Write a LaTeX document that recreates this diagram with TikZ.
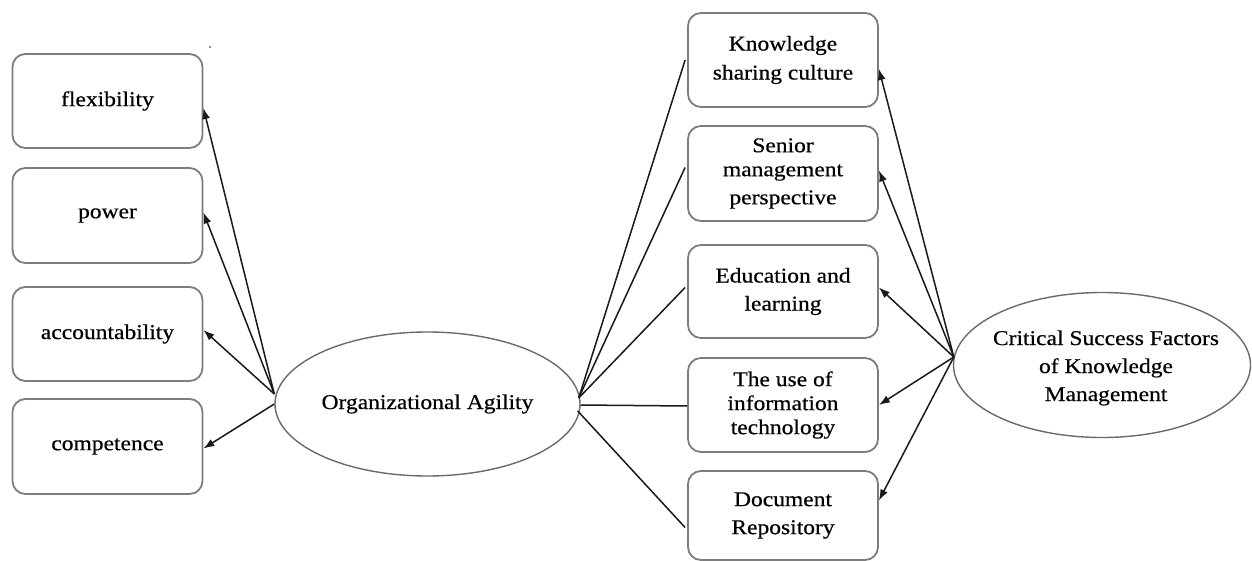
\documentclass[tikz,border=0pt]{standalone}
\usepackage{fontspec}
\setmainfont{Liberation Serif}[FakeStretch=1.12,FakeBold=0.5]
\usetikzlibrary{arrows.meta,shapes.geometric}
\definecolor{frame}{RGB}{125,125,125}
\begin{document}
\begin{tikzpicture}[x=1pt,y=-1pt,
  every node/.style={font=\fontsize{21}{24}\selectfont, text=black},
  factor/.style={draw=frame, line width=1.8pt, rounded corners=13pt,
    minimum width=190pt, inner sep=0pt, align=center},
  hub/.style={ellipse, draw=frame!85!black, line width=1.4pt, inner sep=0pt},
  label/.style={align=center, inner sep=0pt},
  link/.style={line width=1.5pt, draw=black!90},
  arr/.style={link, -{Latex[length=11pt,width=8pt]}}]
\useasboundingbox (0,0) rectangle (1252,561);

% indicators of organizational agility
\node[factor, minimum height=94pt] (flex) at (107.5,101) {flexibility};
\node[factor, minimum height=95pt] (power) at (107.5,215.5) {power};
\node[factor, minimum height=94pt] (acc) at (107.5,334) {accountability};
\node[factor, minimum height=95pt] (comp) at (107.5,446.5) {competence};

% central construct
\node[hub, minimum width=305pt, minimum height=144pt] (oa) at (427.5,404) {};
\node[label] (oaText) at (oa.center) {Organizational Agility};

% critical success factors
\node[factor, minimum height=94pt] (ksc) at (783,60) {Knowledge\\[5pt]sharing culture};
\node[factor, minimum height=95pt] (smp) at (783,173.5) {Senior\\management\\[4pt]perspective};
\node[factor, minimum height=93pt] (edu) at (783,291.5) {Education and\\[4pt]learning};
\node[factor, minimum height=94pt] (it) at (783,405) {The use of\\information\\technology};
\node[factor, minimum height=89pt] (doc) at (783,515.5) {Document\\[4pt]Repository};

\node[hub, minimum width=297pt, minimum height=145pt] (csf) at (1102,365) {};
\node[label] (csfText) at (1106,368)
  {Critical Success Factors\\[4pt]of Knowledge\\[4pt]Management};

% hub points on the ellipses
\coordinate (oaW) at ([yshift=10pt]oa.west);
\coordinate (oaWl) at ([yshift=0pt]oa.west);
\coordinate (oaE) at ([xshift=-2pt,yshift=6pt]oa.east);
\coordinate (csfW) at ([xshift=1pt,yshift=8pt]csf.west);

% arrows to the agility indicators
\draw[arr] (oaW) -- ([yshift=-7pt]flex.east);
\draw[arr] (oaW) -- ([yshift=3pt]power.east);
\draw[arr] (oaW) -- ([yshift=4pt]acc.east);
\draw[arr] (oaWl) -- ([yshift=-2pt]comp.east);

% lines to the success factors
\draw[link] (oaE) -- ([xshift=-2pt]ksc.west);
\draw[link] (oaE) -- ([xshift=-2pt,yshift=6pt]smp.west);
\draw[link] (oaE) -- ([xshift=-2pt,yshift=4pt]edu.west);
\draw[link] ([yshift=-1pt]oa.east) -- ([yshift=-1pt]it.west);
\draw[link] ([xshift=-3pt,yshift=-7pt]oa.east) -- ([xshift=-2pt,yshift=-12pt]doc.west);

% arrows from the critical success factors
\draw[arr] (csfW) -- ([yshift=-9pt]ksc.east);
\draw[arr] (csfW) -- ([yshift=3pt]smp.east);
\draw[arr] (csfW) -- ([yshift=4pt]edu.east);
\draw[arr] (csfW) -- (it.east);
\draw[arr] (csfW) -- ([yshift=15pt]doc.east);

% stray mark
\fill[black!60] (210,47) circle (1.2pt);
\end{tikzpicture}
\end{document}
